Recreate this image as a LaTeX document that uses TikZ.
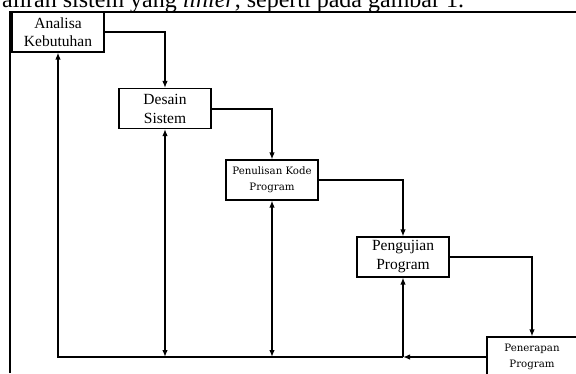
\documentclass[tikz,border=0pt]{standalone}
\usepackage{fontspec}
\setmainfont{Liberation Serif}
\newfontfamily\smallserif{DejaVu Serif}
\usetikzlibrary{arrows.meta}
\begin{document}
\begin{tikzpicture}[x=1pt,y=-1pt,
    box/.style={draw, line width=1.1pt, align=center, inner sep=0pt,
      minimum width=92pt, minimum height=40pt},
    big/.style={font=\fontsize{15.5}{19}\selectfont},
    tiny/.style={font=\smallserif\fontsize{10.2}{16}\selectfont},
    >={Latex[length=7pt,width=5.5pt]}]
  \clip (0,0) rectangle (576,373);
  % caption line cut at the top
  \node[anchor=base west, inner sep=0pt, font=\fontsize{24}{28}\selectfont] (cap) at (2,7)
    {aliran sistem yang \textit{linier}, seperti pada gambar 1.};
  \draw[line width=2pt] (10,373) -- (10,12) -- (576,12);
  \draw
    (58,32) node[box, font=\fontsize{15.5}{18.5}\selectfont] (ana){Analisa\\Kebutuhan}
    (165,108.5) node[box, big] (des){Desain\\Sistem}
    (272,180) node[box, tiny] (pen){Penulisan Kode\\Program}
    (403,257) node[box, big] (uji){Pengujian\\Program}
    (532,357) node[box, tiny, minimum width=90pt] (ter){Penerapan\\Program};
  \coordinate (j2) at (des.south |- ter.west);
  \coordinate (j3) at (pen.south |- ter.west);
  \coordinate (j4) at (uji.south |- ter.west);
  \begin{scope}[line width=2pt]
    \draw[->] (ana.east) -| (des.north);
    \draw[->] (des.east) -| (pen.north);
    \draw[->] (pen.east) -| (uji.north);
    \draw[->] (uji.east) -| (ter.north);
    \draw[->] (ter.west) -- (j4);
    \draw[->] (j4) -| (ana.south);
    \draw[->] (j4) -- (uji.south);
    \draw[<->] (j2) -- (des.south);
    \draw[<->] (j3) -- (pen.south);
  \end{scope}
\end{tikzpicture}
\end{document}
